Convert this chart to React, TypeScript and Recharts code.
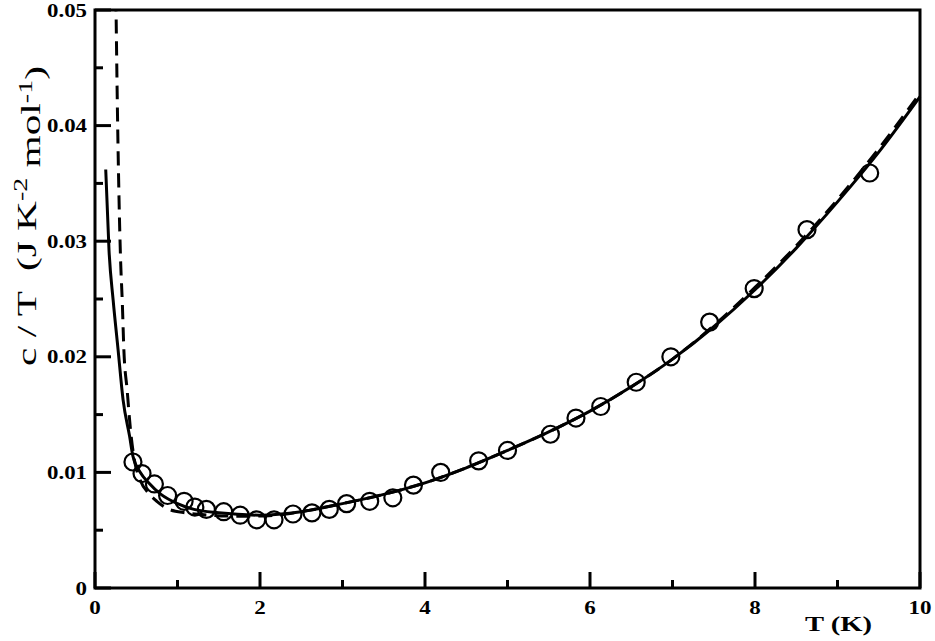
import React from "react";
import { LineChart, Line, Scatter, XAxis, YAxis } from "recharts";

// measured specific heat c/T (J K^-2 mol^-1) vs T (K)
const measT = [0.46, 0.57, 0.72, 0.88, 1.08, 1.21, 1.35, 1.56, 1.76, 1.96, 2.17, 2.4, 2.63, 2.84, 3.05, 3.33, 3.61, 3.86, 4.19, 4.65, 5.0, 5.52, 5.83, 6.13, 6.56, 6.98, 7.45, 7.99, 8.63, 9.39];
const measC = [0.0109, 0.0099, 0.009, 0.008, 0.0075, 0.007, 0.0068, 0.0066, 0.0063, 0.0059, 0.0059, 0.0064, 0.0065, 0.0068, 0.0073, 0.0075, 0.0078, 0.0089, 0.01, 0.011, 0.0119, 0.0133, 0.0147, 0.0157, 0.0178, 0.02, 0.023, 0.0259, 0.031, 0.0359];

// solid fit
const solidT = [0.13, 0.17, 0.22, 0.28, 0.34, 0.42, 0.46, 0.55, 0.65, 0.8, 1.0, 1.2, 1.5, 2.0, 2.5, 3.0, 3.5, 4.0, 4.5, 5.0, 5.5, 6.0, 6.5, 7.0, 7.5, 8.0, 8.5, 9.0, 9.5, 10.0];
const solidC = [0.0362, 0.0292, 0.0249, 0.0206, 0.0163, 0.0131, 0.0114, 0.01, 0.0091, 0.0081, 0.0073, 0.0068, 0.0065, 0.0063, 0.0066, 0.0073, 0.0081, 0.0091, 0.0104, 0.0119, 0.0135, 0.0153, 0.0174, 0.0198, 0.0226, 0.0258, 0.0294, 0.0334, 0.0377, 0.0425];

// dashed fit
const dashT = [0.25, 0.27, 0.31, 0.33, 0.35, 0.39, 0.43, 0.47, 0.55, 0.65, 0.75, 0.9, 1.1, 1.4, 1.8, 2.2, 2.5, 3.0, 3.5, 4.0, 4.5, 5.0, 5.5, 6.0, 6.5, 7.0, 7.5, 8.0, 8.5, 9.0, 9.5, 10.0];
const dashC = [0.053, 0.0422, 0.0284, 0.0249, 0.0206, 0.0171, 0.0137, 0.0114, 0.0093, 0.0082, 0.0075, 0.0068, 0.0065, 0.0063, 0.0062, 0.0063, 0.0066, 0.0073, 0.0081, 0.0091, 0.0104, 0.0119, 0.0135, 0.0153, 0.0174, 0.0198, 0.0227, 0.026, 0.0296, 0.0336, 0.038, 0.0428];

const xTicks = [0, 1, 2, 3, 4, 5, 6, 7, 8, 9, 10];
const yTicks = [0, 0.005, 0.01, 0.015, 0.02, 0.025, 0.03, 0.035, 0.04, 0.045, 0.05];

const measured = measT.map((t, i) => ({ t, c: measC[i] }));
const solid = solidT.map((t, i) => ({ t, c: solidC[i] }));
const dashed = dashT.map((t, i) => ({ t, c: dashC[i] }));

const LEFT = 95;
const RIGHT = 920;
const TOP = 10;
const BOTTOM = 588;
const FONT = "Liberation Serif, Times New Roman, serif";
const LW = 3;

const xMajor = (v: number) => Math.round(v) % 2 === 0;
const yMajor = (v: number) => Math.round(v * 1000) % 10 === 0;

// tick marks point inward, labels only on the major ones
const BottomTick = (p: any) => {
  const v = p.payload.value;
  const major = xMajor(v);
  const s = String(v);
  return (
    <g>
      <path d={`M${p.x},${BOTTOM}V${BOTTOM - (major ? 16 : 8)}`} style={{ stroke: "#000", strokeWidth: LW }} />
      {major && (
        <text
          x={p.x}
          y={BOTTOM + 26}
          textAnchor="middle"
          fontFamily={FONT}
          fontWeight="bold"
          fontSize={19}
          fill="#000"
          textLength={s.length * 11.5}
          lengthAdjust="spacingAndGlyphs"
        >
          {s}
        </text>
      )}
    </g>
  );
};

const TopTick = (p: any) => {
  const major = xMajor(p.payload.value);
  return <path d={`M${p.x},${TOP}V${TOP + (major ? 16 : 8)}`} style={{ stroke: "#000", strokeWidth: LW }} />;
};

const LeftTick = (p: any) => {
  const v = p.payload.value;
  const major = yMajor(v);
  const label = v === 0 ? "0" : v.toFixed(2);
  return (
    <g>
      <path d={`M${LEFT},${p.y}H${LEFT + (major ? 16 : 8)}`} style={{ stroke: "#000", strokeWidth: LW }} />
      {major && (
        <text
          x={LEFT - 8}
          y={p.y}
          dy="0.35em"
          textAnchor="end"
          fontFamily={FONT}
          fontWeight="bold"
          fontSize={19}
          fill="#000"
          textLength={v === 0 ? 11.5 : 40}
          lengthAdjust="spacingAndGlyphs"
        >
          {label}
        </text>
      )}
    </g>
  );
};

const RightTick = (p: any) => {
  const major = yMajor(p.payload.value);
  return <path d={`M${RIGHT},${p.y}H${RIGHT - (major ? 16 : 8)}`} style={{ stroke: "#000", strokeWidth: LW }} />;
};

const YTitle = () => (
  <text
    transform="translate(36,216) rotate(-90)"
    textAnchor="middle"
    fontFamily={FONT}
    fontSize={28}
    fill="#000"
    textLength={300}
    lengthAdjust="spacingAndGlyphs"
    style={{ whiteSpace: "pre" }}
  >
    c / T  (J K
    <tspan dy="-0.45em" fontSize={19}>-2</tspan>
    <tspan dy="0.45em"> mol</tspan>
    <tspan dy="-0.45em" fontSize={19}>-1</tspan>
    <tspan dy="0.45em">)</tspan>
  </text>
);

const XTitle = () => (
  <text x={805} y={631} fontFamily={FONT} fontWeight="bold" fontSize={22} fill="#000" textLength={67} lengthAdjust="spacingAndGlyphs">
    T (K)
  </text>
);

const Ring = (p: any) => <circle cx={p.cx} cy={p.cy} r={8.5} fill="none" stroke="#000" strokeWidth={2.2} />;

const frame = { stroke: "#000", strokeWidth: LW };

export default function App() {
  return (
    <div style={{ position: "absolute", left: 0, top: 0, background: "#fff" }}>
      <LineChart width={935} height={641} margin={{ top: TOP - 1, right: 935 - RIGHT - 1, bottom: 0, left: 0 }}>
        <XAxis
          xAxisId="b"
          dataKey="t"
          type="number"
          domain={[0, 10]}
          ticks={xTicks}
          interval={0}
          height={641 - BOTTOM}
          tickSize={0}
          tickLine={false}
          axisLine={false}
          tick={<BottomTick />}
          label={<XTitle />}
        />
        <XAxis
          xAxisId="t"
          orientation="top"
          dataKey="t"
          type="number"
          domain={[0, 10]}
          ticks={xTicks}
          interval={0}
          height={1}
          tickSize={0}
          tickLine={false}
          axisLine={false}
          tick={<TopTick />}
        />
        <YAxis
          yAxisId="l"
          type="number"
          domain={[0, 0.05]}
          allowDataOverflow
          ticks={yTicks}
          interval={0}
          width={LEFT}
          tickSize={0}
          tickLine={false}
          axisLine={false}
          tick={<LeftTick />}
          label={<YTitle />}
        />
        <YAxis
          yAxisId="r"
          orientation="right"
          type="number"
          domain={[0, 0.05]}
          ticks={yTicks}
          interval={0}
          width={1}
          tickSize={0}
          tickLine={false}
          axisLine={false}
          tick={<RightTick />}
        />
        <Line
          xAxisId="b"
          yAxisId="l"
          data={solid}
          dataKey="c"
          type="monotone"
          stroke="#000"
          strokeWidth={3}
          dot={false}
          isAnimationActive={false}
        />
        <Line
          xAxisId="b"
          yAxisId="l"
          data={dashed}
          dataKey="c"
          type="monotone"
          stroke="#000"
          strokeWidth={3}
          strokeDasharray="14 8"
          dot={false}
          isAnimationActive={false}
        />
        <Scatter xAxisId="b" yAxisId="l" data={measured} dataKey="c" shape={<Ring />} isAnimationActive={false} />
      </LineChart>
      <svg width={935} height={641} style={{ position: "absolute", left: 0, top: 0, pointerEvents: "none" }}>
        <rect x={LEFT} y={TOP} width={RIGHT - LEFT} height={BOTTOM - TOP} fill="none" style={frame} />
      </svg>
    </div>
  );
}
